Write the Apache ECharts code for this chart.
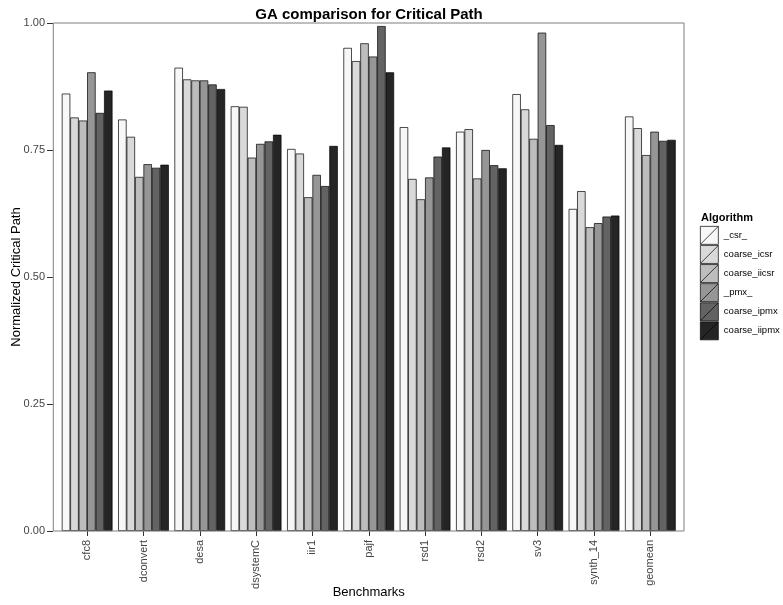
<!DOCTYPE html>
<html>
<head>
<meta charset="utf-8">
<script src="https://cdn.jsdelivr.net/npm/echarts@6/dist/echarts.min.js"></script>
<style>html,body{margin:0;padding:0;background:#fff;}#main{width:783px;height:605px;}</style>
</head>
<body>
<div id="main"></div>
<script>
const categories = ['cfc8','dconvert','desa','dsystemC','iir1','pajf','rsd1','rsd2','sv3','synth_14','geomean'];
const algorithms = ['_csr_','coarse_icsr','coarse_iicsr','_pmx_','coarse_ipmx','coarse_iipmx'];
const colors = ['#f7f7f7','#d9d9d9','#bdbdbd','#969696','#636363','#252525'];
const yTicks = [0, 0.25, 0.5, 0.75, 1.0];

const csr    = [0.861, 0.810, 0.912, 0.836, 0.752, 0.951, 0.795, 0.786, 0.860, 0.634, 0.816];
const icsr   = [0.814, 0.776, 0.889, 0.835, 0.743, 0.925, 0.693, 0.791, 0.830, 0.669, 0.793];
const iicsr  = [0.808, 0.697, 0.887, 0.735, 0.657, 0.960, 0.653, 0.694, 0.772, 0.598, 0.740];
const pmx    = [0.903, 0.722, 0.887, 0.762, 0.701, 0.934, 0.696, 0.750, 0.981, 0.606, 0.786];
const ipmx   = [0.823, 0.715, 0.879, 0.767, 0.679, 0.994, 0.737, 0.720, 0.799, 0.619, 0.768];
const iipmx  = [0.867, 0.721, 0.870, 0.780, 0.758, 0.903, 0.755, 0.714, 0.760, 0.621, 0.770];
const seriesValues = [csr, icsr, iicsr, pmx, ipmx, iipmx];

const chart = echarts.init(document.getElementById('main'), null, {renderer: 'canvas'});
const font = 'Liberation Sans, Arial, Helvetica, sans-serif';

chart.setOption({
  backgroundColor: '#ffffff',
  animation: false,
  textStyle: {fontFamily: font},
  title: [
    {text: 'GA comparison for Critical Path', left: 369, top: 7, padding: 0, textAlign: 'center',
     textStyle: {fontSize: 15, fontWeight: 'bold', color: '#000', fontFamily: font}},
    {text: 'Algorithm', left: 701, top: 212, padding: 0,
     textStyle: {fontSize: 11, fontWeight: 'bold', color: '#000', fontFamily: font}}
  ],
  legend: {
    orient: 'vertical', left: 700, top: 226, padding: 0,
    itemWidth: 19, itemHeight: 18, itemGap: 0.4,
    icon: 'path://M0,0L17,0L17,17L0,17Z M0,17L17,0',
    itemStyle: {borderColor: '#000', borderWidth: 0.7},
    textStyle: {fontSize: 9.5, color: '#000', fontFamily: font},
    data: algorithms
  },
  grid: {left: 59, top: 23, width: 619.5, height: 508, containLabel: false, outerBoundsMode: 'none'},
  xAxis: {
    type: 'category', data: categories,
    name: 'Benchmarks', nameLocation: 'middle', nameGap: 55, nameMoveOverlap: false,
    nameTextStyle: {fontSize: 13, color: '#000', fontFamily: font},
    axisLine: {show: false},
    axisTick: {show: true, alignWithLabel: true, length: 5, lineStyle: {color: '#333'}},
    axisLabel: {rotate: 90, fontSize: 11, color: '#444', margin: 9, fontFamily: font},
    splitLine: {show: false}
  },
  yAxis: {
    type: 'value', min: 0, max: 1, interval: 0.25, offset: 6,
    name: 'Normalized Critical Path', nameLocation: 'middle', nameGap: 30, nameMoveOverlap: false,
    nameTextStyle: {fontSize: 13, color: '#000', fontFamily: font},
    axisLine: {show: false},
    axisTick: {show: true, length: 6, lineStyle: {color: '#333'}},
    axisLabel: {fontSize: 11, color: '#444', margin: 8, fontFamily: font,
      formatter: v => v.toFixed(2)},
    splitLine: {show: false}
  },
  graphic: [{
    type: 'rect', z: 100, silent: true,
    shape: {x: 53.3, y: 23, width: 630.7, height: 508},
    style: {fill: 'none', stroke: '#7f7f7f', lineWidth: 1}
  }],
  series: algorithms.map((name, i) => ({
    name, type: 'bar', data: seriesValues[i],
    barGap: '0%', barCategoryGap: '10%',
    itemStyle: {color: colors[i], borderColor: '#000', borderWidth: 0.7}
  }))
});
</script>
</body>
</html>
